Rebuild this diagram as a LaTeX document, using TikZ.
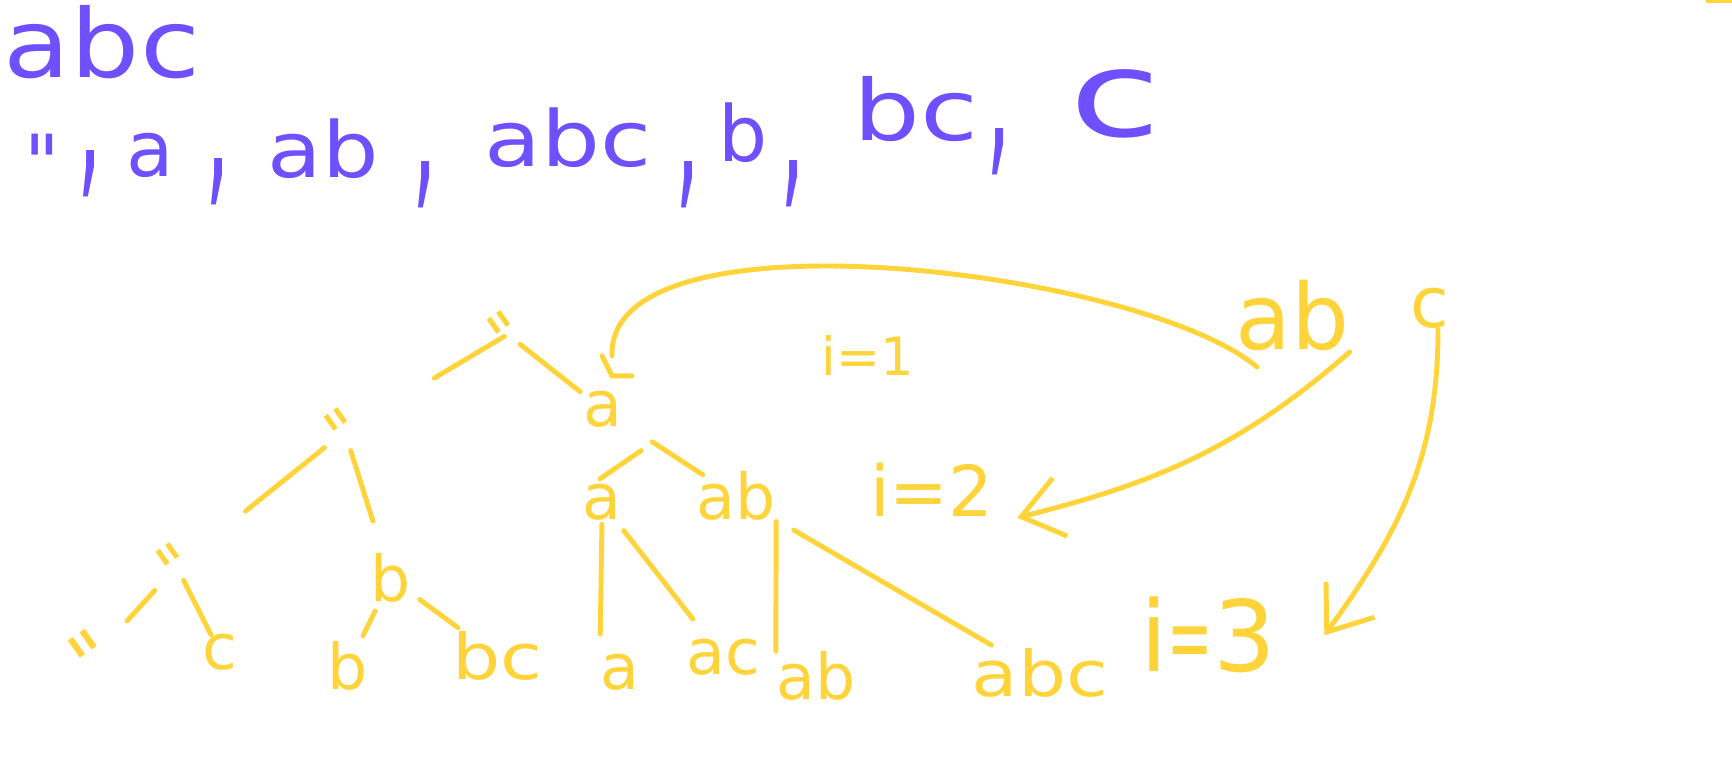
\documentclass[tikz,border=0pt]{standalone}
\usepackage{fontspec}
\setmainfont{DejaVu Sans}
\usetikzlibrary{arrows.meta, calc}
\definecolor{yel}{RGB}{255,212,59}
\definecolor{pur}{RGB}{110,80,255}
\tikzstyle{ink} = [text=yel, inner sep=0pt, anchor=base, font=\fontsize{18}{18}\selectfont]
\tikzstyle{ditto} = [ink, anchor=north, rotate=35]
\tikzstyle{pen} = [text=pur, inner sep=0pt, anchor=base, font=\fontsize{22}{22}\selectfont]
\tikzstyle{pditto} = [pen, anchor=north]
\tikzstyle{comma} = [pen]
\tikzstyle{branch} = [draw=yel, line width=1.4pt, line cap=round]
\tikzstyle{backarrow} = [branch, -{Straight Barb[length=4mm, width=6mm]}]
\newcommand{\tallcomma}{\scalebox{1}[2.5]{,}}
\newcommand{\wide}[2]{\scalebox{#1}[1]{#2}}

\begin{document}
\begin{tikzpicture}[x=0.1mm, y=0.1mm]
\useasboundingbox (0,0) rectangle (1732,-759);

% the string and what comes out of it
\node (word) [pen, font=\fontsize{27}{27}\selectfont] at (102,-78) {\wide{1.15}{abc}};
\node (s0) [pditto] at (42,-133) {\textquotedbl};
\node (k1) [comma] at (90,-175) {\tallcomma};
\node (s1) [pen] at (150,-177) {a};
\node (k2) [comma] at (218,-183) {\tallcomma};
\node (s2) [pen] at (323,-178) {\wide{1.15}{ab}};
\node (k3) [comma] at (425,-186) {\tallcomma};
\node (s3) [pen] at (568,-167) {\wide{1.2}{abc}};
\node (k4) [comma] at (688,-186) {\tallcomma};
\node (s4) [pen] at (743,-162) {b};
\node (k5) [comma] at (793,-185) {\tallcomma};
\node (s5) [pen, font=\fontsize{24}{24}\selectfont] at (916,-141) {\wide{1.25}{bc}};
\node (k6) [comma] at (999,-153) {\tallcomma};
\node (s6) [pen, font=\fontsize{34}{34}\selectfont] at (1115,-137) {\wide{1.4}{c}};

% the tree
\node (r) [ditto] at (494,-315) {\textquotedbl};
\node (r0) [ditto] at (331,-412) {\textquotedbl};
\node (r1) [ink] at (603,-427) {a};
\node (r00) [ditto] at (163,-547) {\textquotedbl};
\node (r01) [ink] at (391,-602) {b};
\node (r10) [ink] at (602,-520) {a};
\node (r11) [ink] at (736,-520) {ab};
\node (r000) [ditto, font=\fontsize{22}{22}\selectfont] at (76,-635) {\textquotedbl};
\node (r001) [ink] at (220,-670) {c};
\node (r010) [ink] at (348,-690) {b};
\node (r011) [ink] at (497,-680) {\wide{1.2}{bc}};
\node (r100) [ink] at (620,-690) {a};
\node (r101) [ink] at (723,-675) {ac};
\node (r110) [ink] at (816,-700) {ab};
\node (r111) [ink] at (1040,-697) {\wide{1.2}{abc}};

% levels
\node (i1) [ink, font=\fontsize{15}{15}\selectfont] at (868,-376) {i=1};
\node (i2) [ink, font=\fontsize{20}{20}\selectfont] at (932,-517) {i=2};
\node (i3) [ink, font=\fontsize{28}{28}\selectfont] at (1208,-672) {i\wide{0.55}{=}3};
\node (back) [ink, font=\fontsize{26}{26}\selectfont] at (1292,-350) {ab};
\node (next) [ink, font=\fontsize{20}{20}\selectfont] at (1430,-328) {c};

\draw[branch] ($(r)!.02!(r0)$) -- ($(r)!.45!(r0)$);
\draw[branch] ($(r)!.13!(r1)$) -- ($(r)!.76!(r1)$);
\draw[branch] ($(r0)!.12!(r00)$) -- ($(r0)!.59!(r00)$);
\draw[branch] ($(r0)!.13!(r01)$) -- ($(r0)!.61!(r01)$);
\draw[branch] ($(r00)!.26!(r000)$) -- ($(r00)!.59!(r000)$);
\draw[branch] ($(r00)!.16!(r001)$) -- ($(r00)!.79!(r001)$);
\draw[branch] ($(r01)!.37!(r010)$) -- ($(r01)!.65!(r010)$);
\draw[branch] ($(r01)!.27!(r011)$) -- ($(r01)!.63!(r011)$);
\draw[branch] ([shift={(18,-22)}]r1.south east) -- ([shift={(-2,5)}]r10.north);
\draw[branch] ($(r1)!.37!(r11)$) -- ($(r1)!.75!(r11)$);
\draw[branch] ($(r10.south)!.02!(r100.north west)$) -- ($(r10.south)!.85!(r100.north west)$);
\draw[branch] ($(r10)!.18!(r101)$) -- ($(r10)!.75!(r101)$);
\draw[branch] (r11.south east) -- (r110.north west);
\draw[branch] ($(r11)!.19!(r111)$) -- ($(r11)!.84!(r111)$);

% going back up
\draw[branch] ([shift={(-1,35)}]r1.north) -- ([shift={(9,15)}]r1.north) -- ([shift={(29,15)}]r1.north);
\draw[branch] ([shift={(9,35)}]r1.north) to[out=92, in=140, looseness=0.6] ([shift={(-35,-15)}]back.south);
\draw[backarrow] (back.south east) to[out=221, in=14] ([xshift=2.3mm]i2.south east);
\draw[backarrow] ([xshift=-1.2mm]next.south east) to[out=-90, in=54] ([xshift=4.8mm]i3.east);

\draw[branch] (1708,-1) -- (1732,-1);
\end{tikzpicture}
\end{document}
